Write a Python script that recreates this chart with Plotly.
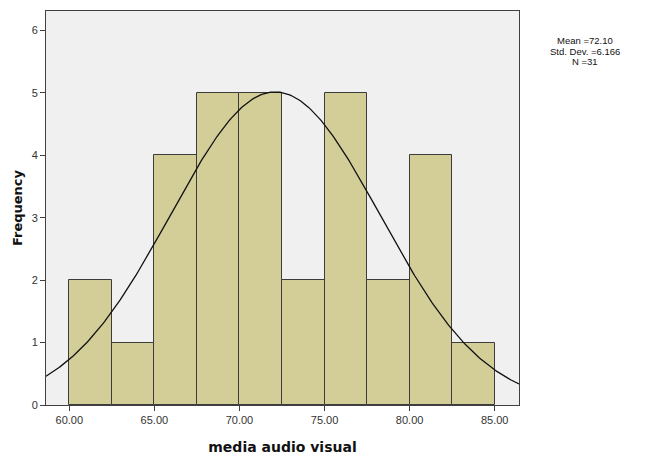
import numpy as np
import plotly.graph_objects as go

bin_edges = [60.0, 62.5, 65.0, 67.5, 70.0, 72.5, 75.0, 77.5, 80.0, 82.5, 85.0]
frequencies = [2, 1, 4, 5, 5, 2, 5, 2, 4, 1]
mean_val = 72.10
std_val = 6.166
n_val = 31
x_ticks = [60, 65, 70, 75, 80, 85]
y_ticks = [0, 1, 2, 3, 4, 5, 6]
x_range = [58.63, 86.43]
y_range = [0, 6.31]

bin_w = bin_edges[1] - bin_edges[0]
centers = [(a + b) / 2 for a, b in zip(bin_edges[:-1], bin_edges[1:])]

xs = np.linspace(x_range[0], x_range[1], 300)
ys = n_val * bin_w / (std_val * np.sqrt(2 * np.pi)) * np.exp(-0.5 * ((xs - mean_val) / std_val) ** 2)

fig = go.Figure()
fig.add_trace(go.Bar(
    x=centers, y=frequencies, width=bin_w,
    marker=dict(color="#D3CE98", line=dict(color="#3C3C3C", width=1)),
    hoverinfo="skip", showlegend=False,
))
fig.add_trace(go.Scatter(
    x=xs, y=ys, mode="lines",
    line=dict(color="#111111", width=1.3),
    hoverinfo="skip", showlegend=False,
))

font_family = "Liberation Sans, Arial, sans-serif"
title_family = "DejaVu Sans, Verdana, sans-serif"
lines = [f"Mean ={mean_val:.2f}", f"Std. Dev. ={std_val:.3f}", f"N ={n_val}"]
annots = []
for i, t in enumerate(lines):
    annots.append(dict(
        text=t, xref="paper", yref="paper",
        x=1.139, y=0.924 - i * 0.0262, xanchor="center", yanchor="middle",
        showarrow=False, font=dict(family=font_family, size=9.5, color="#111111"),
    ))

fig.update_layout(
    width=641, height=449,
    margin=dict(l=38, r=130, t=3, b=52),
    paper_bgcolor="white", plot_bgcolor="#F0F0F0",
    bargap=0,
    font=dict(family=font_family, size=11, color="#1a1a1a"),
    annotations=annots,
    xaxis=dict(
        range=x_range, tickvals=x_ticks, tickformat=".2f",
        showgrid=False, zeroline=False,
        showline=True, linecolor="#404040", linewidth=1, mirror=True,
        ticks="outside", ticklen=5, tickcolor="#404040",
        title=dict(text="<b>media audio visual</b>", font=dict(family=title_family, size=14, color="#111111"), standoff=16),
        tickfont=dict(size=11, color="#333333"),
    ),
    yaxis=dict(
        range=y_range, tickvals=y_ticks,
        showgrid=False, zeroline=False,
        showline=True, linecolor="#404040", linewidth=1, mirror=True,
        ticks="outside", ticklen=5, tickcolor="#404040",
        title=dict(text="<b>Frequency</b>", font=dict(family=title_family, size=13, color="#111111"), standoff=6),
        tickfont=dict(size=11, color="#333333"),
    ),
)

fig.write_html("out.html")
